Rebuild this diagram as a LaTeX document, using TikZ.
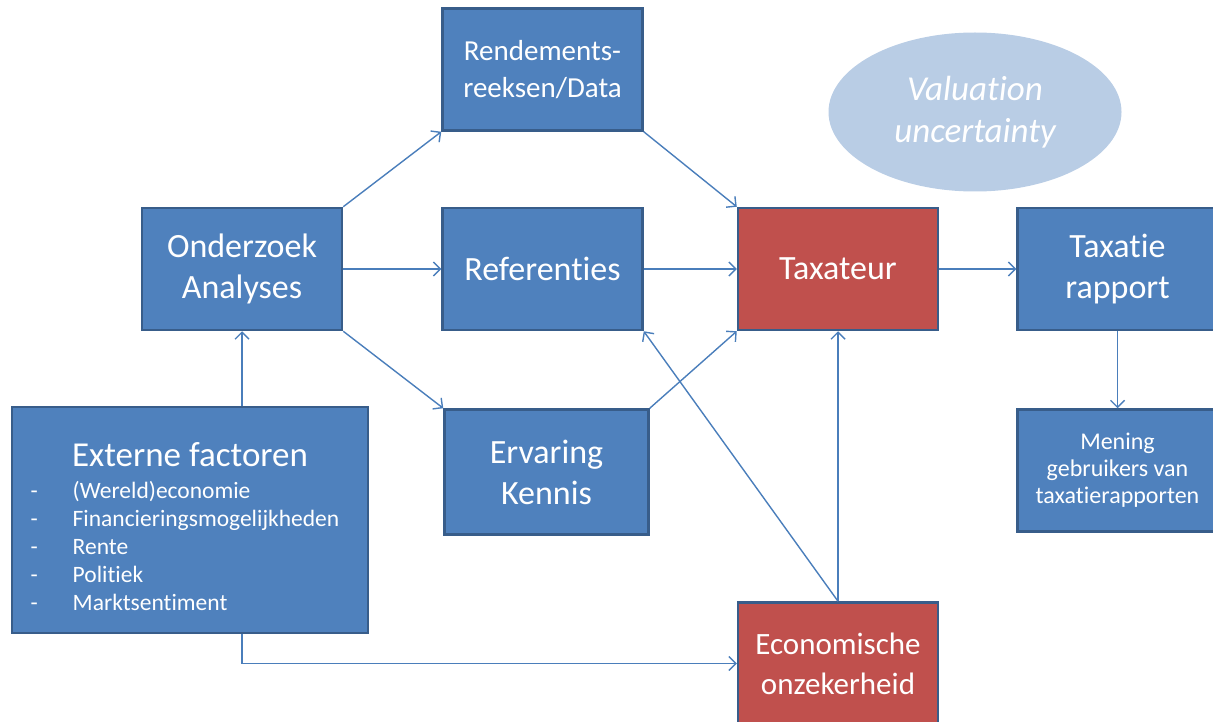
\documentclass[tikz,border=0pt]{standalone}
\usepackage{fontspec}
\setmainfont{Carlito}[Ligatures={NoCommon,NoContextual}]
\usetikzlibrary{arrows.meta,positioning,shapes.geometric}
\definecolor{boxblue}{HTML}{4F81BD}
\definecolor{boxedge}{HTML}{385D8A}
\definecolor{boxred}{HTML}{C0504D}
\definecolor{ellblue}{HTML}{B9CDE5}
\definecolor{linkblue}{HTML}{4A7EBB}

\begin{document}
\begin{tikzpicture}[x=1pt, y=1pt,
  every node/.style={text=white, inner sep=2pt},
  blok/.style={draw=boxedge, line width=2.5pt, fill=boxblue, minimum width=200pt, minimum height=122pt, align=center, font=\fontsize{34}{41}\selectfont},
  rood/.style={blok, fill=boxred},
  pijl/.style={draw=linkblue, line width=1.4pt, -{Straight Barb[length=7pt,width=14pt]}}]
\useasboundingbox (0,0) rectangle (1213,-722);
% middelste rij
\node[rood] (tax) at (838,-269) {Taxateur};
\node[blok, left=93pt of tax] (ref) {Referenties};
\node[blok, left=98pt of ref] (onder) {Onderzoek\\Analyses};
\node[blok, right=77pt of tax] (rapp) {Taxatie\\rapport};
% boven en onder
\node[blok, above=75pt of ref, font=\fontsize{29}{37}\selectfont] (rend) {Rendements-\\reeksen/Data};
\node[blok, below=77pt of ref, xshift=4pt, minimum width=204pt, minimum height=125pt] (erv) {Ervaring\\Kennis};
\node[blok, below=77pt of rapp, font=\fontsize{24}{27}\selectfont] (men) {Mening\\gebruikers van\\taxatierapporten};
\node[rood, below=270pt of tax, font=\fontsize{31}{40}\selectfont] (eco) {Economische\\onzekerheid};
\node[blok, minimum width=356pt, minimum height=226pt, font=\fontsize{23.5}{28}\selectfont] (ext) at (190,-520)
  {\begin{tabular}{@{}p{42pt}@{}l@{\hspace{10pt}}}
   \multicolumn{2}{c}{\rule{0pt}{46pt}\fontsize{35}{42}\selectfont Externe factoren}\\[4pt]
   -&(Wereld)economie\\
   -&Financieringsmogelijkheden\\
   -&Rente\\
   -&Politiek\\
   -&Marktsentiment
   \end{tabular}};
\node[ellipse, fill=ellblue, minimum width=293pt, minimum height=159pt, align=center, font=\fontsize{35}{42}\selectfont\itshape] (onz) at (975,-112) {Valuation\\uncertainty};
% pijlen
\draw[pijl] (onder.north east) -- (rend.south west);
\draw[pijl] (onder) -- (ref);
\draw[pijl] (onder.south east) -- (erv.north west);
\draw[pijl] (rend.south east) -- (tax.north west);
\draw[pijl] (ref) -- (tax);
\draw[pijl] (erv.north east) -- (tax.south west);
\draw[pijl] (ext.north -| onder.south) -- (onder.south);
\draw[pijl] (ext.south -| onder.south) |- (eco.west);
\draw[pijl] (eco.north) -- (ref.south east);
\draw[pijl] (eco) -- (tax);
\draw[pijl] (tax) -- (rapp);
\draw[pijl] (rapp) -- (men);
\end{tikzpicture}
\end{document}
